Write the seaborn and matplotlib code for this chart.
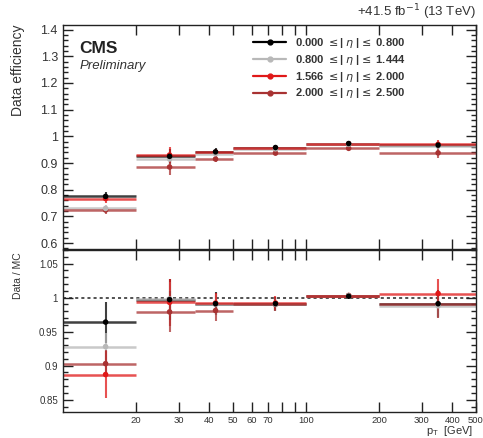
import numpy as np
import pandas as pd
import seaborn as sns
import matplotlib.pyplot as plt
from matplotlib.ticker import MultipleLocator, FixedLocator, NullLocator, FixedFormatter

bin_lo = [10, 20, 35, 50, 100, 200]
bin_hi = [20, 35, 50, 100, 200, 500]
pt_center = [15, 27.5, 42.5, 75, 150, 350]

eta_labels = ['0.000 $\\leq$| $\\eta$ |$\\leq$ 0.800',
              '0.800 $\\leq$| $\\eta$ |$\\leq$ 1.444',
              '1.566 $\\leq$| $\\eta$ |$\\leq$ 2.000',
              '2.000 $\\leq$| $\\eta$ |$\\leq$ 2.500']
colors = ['#000000', '#b8b8b8', '#e01818', '#a83232']

eff = [[0.775, 0.925, 0.942, 0.958, 0.973, 0.967],
       [0.730, 0.915, 0.935, 0.953, 0.970, 0.964],
       [0.767, 0.930, 0.940, 0.955, 0.972, 0.970],
       [0.724, 0.885, 0.915, 0.937, 0.955, 0.938]]
eff_err = [[0.015, 0.028, 0.014, 0.008, 0.005, 0.012],
           [0.012, 0.020, 0.012, 0.008, 0.005, 0.012],
           [0.015, 0.030, 0.014, 0.008, 0.005, 0.015],
           [0.015, 0.030, 0.012, 0.008, 0.005, 0.020]]

ratio = [[0.964, 0.997, 0.991, 0.991, 1.002, 0.991],
         [0.928, 0.998, 0.990, 0.990, 1.003, 0.988],
         [0.887, 0.993, 0.992, 0.992, 1.003, 1.006],
         [0.903, 0.979, 0.981, 0.990, 1.003, 0.990]]
ratio_err = [[0.030, 0.030, 0.017, 0.010, 0.003, 0.020],
             [0.020, 0.025, 0.015, 0.010, 0.003, 0.018],
             [0.035, 0.035, 0.015, 0.010, 0.003, 0.022],
             [0.020, 0.030, 0.015, 0.010, 0.003, 0.020]]

rows = []
for i, lab in enumerate(eta_labels):
    for j in range(len(pt_center)):
        rows.append(dict(eta=lab, pt=pt_center[j], lo=bin_lo[j], hi=bin_hi[j],
                         eff=eff[i][j], eff_err=eff_err[i][j],
                         ratio=ratio[i][j], ratio_err=ratio_err[i][j]))
df = pd.DataFrame(rows)

sns.set_style('ticks')
plt.rcParams.update({
    'font.family': ['Liberation Sans', 'DejaVu Sans'],
    'mathtext.fontset': 'dejavusans',
    'xtick.direction': 'in', 'ytick.direction': 'in',
    'xtick.top': True, 'ytick.right': True,
    'xtick.bottom': True, 'ytick.left': True,
    'xtick.major.size': 7, 'ytick.major.size': 7,
    'xtick.minor.size': 3.5, 'ytick.minor.size': 3.5,
    'xtick.major.width': 1.0, 'ytick.major.width': 1.0,
    'xtick.minor.width': 1.0, 'ytick.minor.width': 1.0,
    'xtick.color': '#222222', 'ytick.color': '#222222',
    'xtick.labelcolor': '#333333', 'ytick.labelcolor': '#333333',
})

fig = plt.figure(figsize=(4.83, 4.38), dpi=100)
ax1 = fig.add_axes([0.130, 0.4315, 0.855, 0.5115])
ax2 = fig.add_axes([0.130, 0.0594, 0.855, 0.370])

palette = dict(zip(eta_labels, colors))
order = [1, 3, 2, 0]
for ax, col, ecol in [(ax1, 'eff', 'eff_err'), (ax2, 'ratio', 'ratio_err')]:
    for i in order:
        d = df[df['eta'] == eta_labels[i]]
        c = colors[i]
        ax.hlines(d[col], d['lo'], d['hi'], color=c, lw=1.8, alpha=0.75, zorder=2 + i * 0.01)
        ax.vlines(d['pt'], d[col] - d[ecol], d[col] + d[ecol], color=c, lw=1.5, alpha=0.75,
                  zorder=2 + i * 0.01)
    sns.scatterplot(data=df.iloc[::-1], x='pt', y=col, hue='eta', palette=palette, s=16,
                    edgecolor='none', legend=False, ax=ax, zorder=3)

ax1.set_ylim(0.578, 1.417)
ax1.set_yticks([0.6, 0.7, 0.8, 0.9, 1.0, 1.1, 1.2, 1.3, 1.4])
ax1.set_yticklabels(['0.6', '0.7', '0.8', '0.9', '1', '1.1', '1.2', '1.3', '1.4'], fontsize=9)
ax1.yaxis.set_minor_locator(MultipleLocator(0.02))

ax2.set_ylim(0.832, 1.07)
ax2.set_yticks([0.85, 0.9, 0.95, 1.0, 1.05])
ax2.set_yticklabels(['0.85', '0.9', '0.95', '1', '1.05'], fontsize=7)
ax2.yaxis.set_minor_locator(MultipleLocator(0.01))
ax2.axhline(1.0, color='#222222', lw=1.1, ls=(0, (2, 2)), zorder=1)

xt = [20, 30, 40, 50, 60, 70, 80, 90, 100, 200, 300, 400, 500]
for ax in (ax1, ax2):
    ax.set_xscale('log')
    ax.set_xlim(10, 500)
    ax.xaxis.set_major_locator(FixedLocator(xt))
    ax.xaxis.set_minor_locator(NullLocator())
    ax.set_xlabel('')
    ax.set_ylabel('')
    for s in ax.spines.values():
        s.set_linewidth(1.0)
        s.set_color('#222222')

ax1.xaxis.set_major_formatter(FixedFormatter([''] * len(xt)))
ax2.xaxis.set_major_formatter(FixedFormatter(['20', '30', '40', '50', '60', '70', '', '', '100',
                                              '200', '300', '400', '500']))
ax2.tick_params(axis='x', labelsize=6.8, pad=3)

# legend
for i, lab in enumerate(eta_labels):
    ax1.plot([], [], color=colors[i], lw=1.6, marker='o', ms=3.5, label=lab)
leg = ax1.legend(loc='upper left', bbox_to_anchor=(0.45, 0.97), frameon=False,
                 prop={'size': 8, 'weight': 'bold'}, handlelength=3.0, labelspacing=0.25,
                 borderaxespad=0.0)
for t in leg.get_texts():
    t.set_color('#333333')

ax1.text(0.040, 0.893, 'CMS', transform=ax1.transAxes, fontsize=12.5, fontweight='bold',
         color='#222222', va='center')
ax1.text(0.040, 0.818, 'Preliminary', transform=ax1.transAxes, fontsize=9.5, style='italic',
         color='#333333', va='center')
fig.text(0.985, 0.972, '+41.5 fb$^{-1}$ (13 TeV)', ha='right', va='center', fontsize=9.5,
         color='#333333')
fig.text(0.038, 0.943, 'Data efficiency', rotation=90, ha='center', va='top', fontsize=10,
         color='#333333')
fig.text(0.038, 0.425, 'Data / MC', rotation=90, ha='center', va='top', fontsize=7.5,
         color='#333333')
fig.text(0.980, 0.0, 'p$_{\\mathregular{T}}$  [GeV]', ha='right', va='bottom', fontsize=8,
         color='#333333')

plt.savefig('out.png', dpi=100)
